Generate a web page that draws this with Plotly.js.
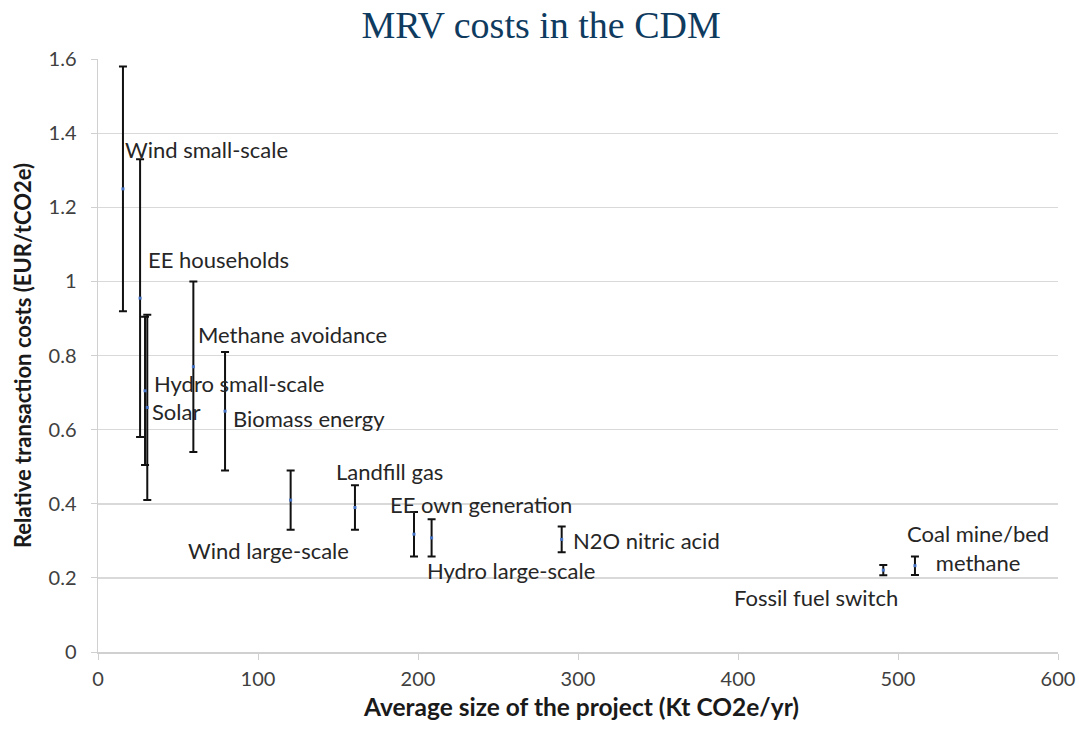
<!DOCTYPE html>
<html>
<head>
<meta charset="utf-8">
<script src="https://cdn.plot.ly/plotly-3.0.1.min.js"></script>
<style>
  html, body { margin: 0; padding: 0; background: #ffffff; }
  #chart { width: 1079px; height: 732px; }
</style>
</head>
<body>
<div id="chart"></div>
<script>
// Project types
const projectNames = [
  "Wind small-scale", "EE households", "Hydro small-scale", "Solar",
  "Methane avoidance", "Biomass energy", "Wind large-scale", "Landfill gas",
  "EE own generation", "Hydro large-scale", "N2O nitric acid",
  "Fossil fuel switch", "Coal mine/bed methane"
];
// Average size of the project (Kt CO2e/yr)
const avgSize = [15.6, 26.3, 29.4, 30.8, 59.6, 79.4, 120.4, 160.6, 197.5, 208.5, 289.8, 490.8, 510.6];
// Relative transaction costs (EUR/tCO2e)
const relCost = [1.25, 0.955, 0.705, 0.66, 0.77, 0.65, 0.41, 0.39, 0.318, 0.308, 0.304, 0.221, 0.233];
// Error range (+/-)
const costErr = [0.33, 0.375, 0.2, 0.25, 0.23, 0.16, 0.08, 0.06, 0.06, 0.05, 0.035, 0.014, 0.025];

// Label texts and their anchor positions (data coords)
const labelTexts = [
  "Wind small-scale", "EE households", "Hydro small-scale", "Solar",
  "Methane avoidance", "Biomass energy", "Wind large-scale", "Landfill gas",
  "EE own generation", "Hydro large-scale", "N2O nitric acid",
  "Fossil fuel switch", "Coal mine/bed<br>methane"
];
const labelX = [16.3, 30.6, 34.4, 33.1, 61.9, 83.8, 55.6, 148.1, 181.9, 205, 296.3, 396.9, 550];
const labelY = [1.355, 1.06, 0.726, 0.65, 0.858, 0.629, 0.273, 0.486, 0.399, 0.221, 0.30, 0.148, 0.281];
const labelAnchor = ["left","left","left","left","left","left","left","left","left","left","left","left","center"];

const xTitleText = "Average size of the project (Kt CO2e/yr)";
const yTitleText = "Relative transaction costs (EUR/tCO2e)";

const baseFont = "Lato, 'Open Sans', sans-serif";
const labelFont = { family: baseFont, size: 22, color: "#262626" };

const annotations = labelTexts.map((t, i) => ({
  x: labelX[i], y: labelY[i], xref: "x", yref: "y",
  text: t, showarrow: false, xanchor: labelAnchor[i], yanchor: "middle",
  align: "center", font: labelFont, borderpad: 0
}));

// x-axis title placed as an annotation to match its vertical position
annotations.push({
  x: 0.5036, y: -0.0927, xref: "paper", yref: "paper",
  text: xTitleText, showarrow: false, xanchor: "center", yanchor: "middle",
  font: { family: baseFont, size: 24.5, color: "#1a1a1a", weight: "bold" }, borderpad: 0
});

const trace = {
  type: "scatter",
  mode: "markers",
  x: avgSize,
  y: relCost,
  text: projectNames,
  marker: { symbol: "square", size: 3, color: "#4472c4" },
  error_y: {
    type: "data", array: costErr, visible: true,
    color: "#111111", thickness: 2, width: 4
  },
  hoverinfo: "text+x+y",
  showlegend: false
};

const layout = {
  width: 1079, height: 732,
  margin: { l: 98, r: 21, t: 59, b: 80 },
  paper_bgcolor: "#ffffff", plot_bgcolor: "#ffffff",
  title: {
    text: "MRV costs in the CDM",
    font: { family: "'Liberation Serif', 'Times New Roman', serif", size: 38, color: "#0f3b5f" },
    x: 0.5015, xanchor: "center", xref: "container",
    y: 0.966, yanchor: "middle", yref: "container"
  },
  xaxis: {
    range: [0, 600], dtick: 100, tick0: 0,
    showgrid: false, zeroline: false,
    showline: true, linecolor: "#d0d0d0", linewidth: 1.5,
    ticks: "outside", ticklen: 6, tickcolor: "#d0d0d0",
    ticklabelstandoff: 2,
    tickfont: { family: baseFont, size: 20, color: "#404040" }
  },
  yaxis: {
    range: [0, 1.6005], dtick: 0.2, tick0: 0,
    showgrid: true, gridcolor: "#d9d9d9", gridwidth: 1.5,
    zeroline: false,
    showline: true, linecolor: "#d0d0d0", linewidth: 1.5,
    ticks: "outside", ticklen: 6, tickcolor: "#d0d0d0",
    ticklabelstandoff: 10,
    tickfont: { family: baseFont, size: 20, color: "#404040" },
    title: {
      text: yTitleText,
      font: { family: baseFont, size: 22, color: "#1a1a1a", weight: "bold" },
      standoff: 11
    }
  },
  annotations: annotations
};

Plotly.newPlot("chart", [trace], layout, { displayModeBar: false, staticPlot: true });
</script>
</body>
</html>
